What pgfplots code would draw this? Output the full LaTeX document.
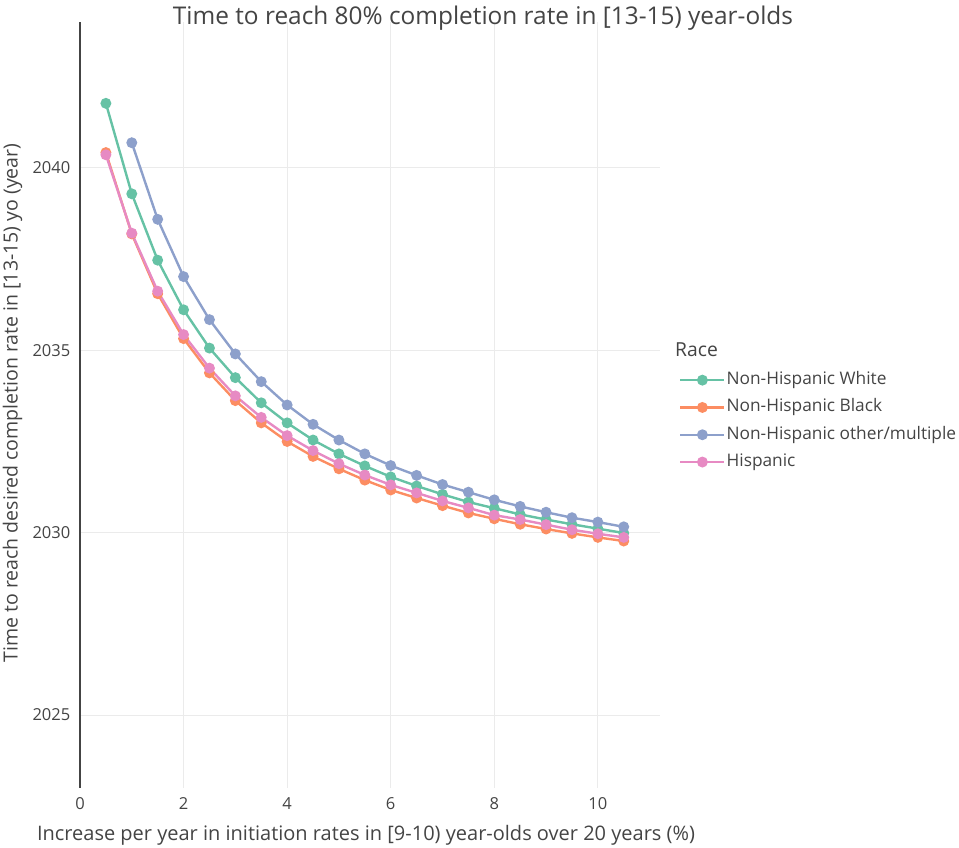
\documentclass[border=0pt]{standalone}
\usepackage{pgfplots}
\pgfplotsset{compat=1.18}
\usepackage{fontspec}
\setmainfont{Open Sans}
\definecolor{cW}{HTML}{66C2A5}
\definecolor{cB}{HTML}{FC8D62}
\definecolor{cO}{HTML}{8DA0CB}
\definecolor{cH}{HTML}{E78AC3}
\definecolor{txt}{HTML}{444444}
\definecolor{gridc}{HTML}{EBEBEB}
\begin{document}
\begin{tikzpicture}
\path[use as bounding box] (0,0) rectangle (959pt,848pt);
\begin{axis}[
  at={(80pt,60pt)}, anchor=south west,
  scale only axis, width=580pt, height=766pt,
  xmin=0, xmax=11.2, ymin=2023, ymax=2044,
  xtick={0,2,4,6,8,10}, ytick={2025,2030,2035,2040},
  axis x line=bottom, axis y line=left,
  x axis line style={draw=none},
  y axis line style={draw=txt, line width=1.5pt, -},
  major tick length=0pt,
  grid=major,
  major grid style={draw=gridc, line width=1pt},
  /pgf/number format/1000 sep={},
  /pgf/number format/assume math mode=true,
  tick label style={font=\fontsize{16.5}{19}\selectfont, text=txt},
  yticklabel style={anchor=east, inner sep=0pt, xshift=-9.5pt},
  xticklabel style={anchor=north, inner sep=0pt, yshift=-9pt},
  legend style={at={(1.0276,0.5477)}, anchor=north west, draw=none, fill=none,
    font=\fontsize{17.3}{20}\selectfont, text=txt, row sep=8.3pt,
    nodes={inner sep=1pt, text height=13pt, text depth=4pt}},
  legend cell align=left,
  legend image code/.code={\draw[#1, mark repeat=2, mark phase=2] plot coordinates {(0pt,0pt) (22pt,0pt) (44pt,0pt)};},
  every axis plot/.append style={line width=2.4pt, mark=*, mark size=4.2pt},
  clip=false,
]
\addplot[color=cW, mark options={fill=cW, draw=cW}] coordinates {
(0.5,2041.77) (1,2039.29) (1.5,2037.47) (2,2036.11) (2.5,2035.06) (3,2034.25) (3.5,2033.56) (4,2033.01) (4.5,2032.54) (5,2032.16) (5.5,2031.83) (6,2031.53) (6.5,2031.28) (7,2031.05) (7.5,2030.84) (8,2030.67) (8.5,2030.50) (9,2030.36) (9.5,2030.23) (10,2030.11) (10.5,2029.99)};
\addlegendentry{Non-Hispanic White}
\addplot[color=cB, mark options={fill=cB, draw=cB}] coordinates {
(0.5,2040.42) (1,2038.19) (1.5,2036.55) (2,2035.32) (2.5,2034.38) (3,2033.62) (3.5,2033.01) (4,2032.50) (4.5,2032.09) (5,2031.75) (5.5,2031.44) (6,2031.17) (6.5,2030.95) (7,2030.74) (7.5,2030.54) (8,2030.38) (8.5,2030.23) (9,2030.10) (9.5,2029.98) (10,2029.87) (10.5,2029.77)};
\addlegendentry{Non-Hispanic Black}
\addplot[color=cO, mark options={fill=cO, draw=cO}] coordinates {
(1,2040.69) (1.5,2038.59) (2,2037.02) (2.5,2035.84) (3,2034.90) (3.5,2034.14) (4,2033.50) (4.5,2032.97) (5,2032.54) (5.5,2032.16) (6,2031.84) (6.5,2031.57) (7,2031.32) (7.5,2031.11) (8,2030.90) (8.5,2030.72) (9,2030.56) (9.5,2030.41) (10,2030.29) (10.5,2030.16)};
\addlegendentry{Non-Hispanic other/multiple}
\addplot[color=cH, mark options={fill=cH, draw=cH}] coordinates {
(0.5,2040.36) (1,2038.21) (1.5,2036.62) (2,2035.43) (2.5,2034.51) (3,2033.75) (3.5,2033.16) (4,2032.66) (4.5,2032.25) (5,2031.89) (5.5,2031.58) (6,2031.31) (6.5,2031.09) (7,2030.87) (7.5,2030.68) (8,2030.48) (8.5,2030.36) (9,2030.22) (9.5,2030.08) (10,2029.97) (10.5,2029.87)};
\addlegendentry{Hispanic}
\end{axis}
\node[text=txt, font=\fontsize{24.4}{28}\selectfont, anchor=base] at (483pt,823.5pt) {Time to reach 80\% completion rate in [13-15) year-olds};
\node[text=txt, font=\fontsize{20}{24}\selectfont, anchor=base] at (366pt,7pt) {Increase per year in initiation rates in [9-10) year-olds over 20 years (\%)};
\node[text=txt, font=\fontsize{19.5}{23}\selectfont, rotate=90, anchor=base] at (17.5pt,445pt) {Time to reach desired completion rate in [13-15) yo (year)};
\node[text=txt, font=\fontsize{19.3}{23}\selectfont, anchor=base west, inner sep=0pt] at (675pt,491pt) {Race};
\end{tikzpicture}
\end{document}
